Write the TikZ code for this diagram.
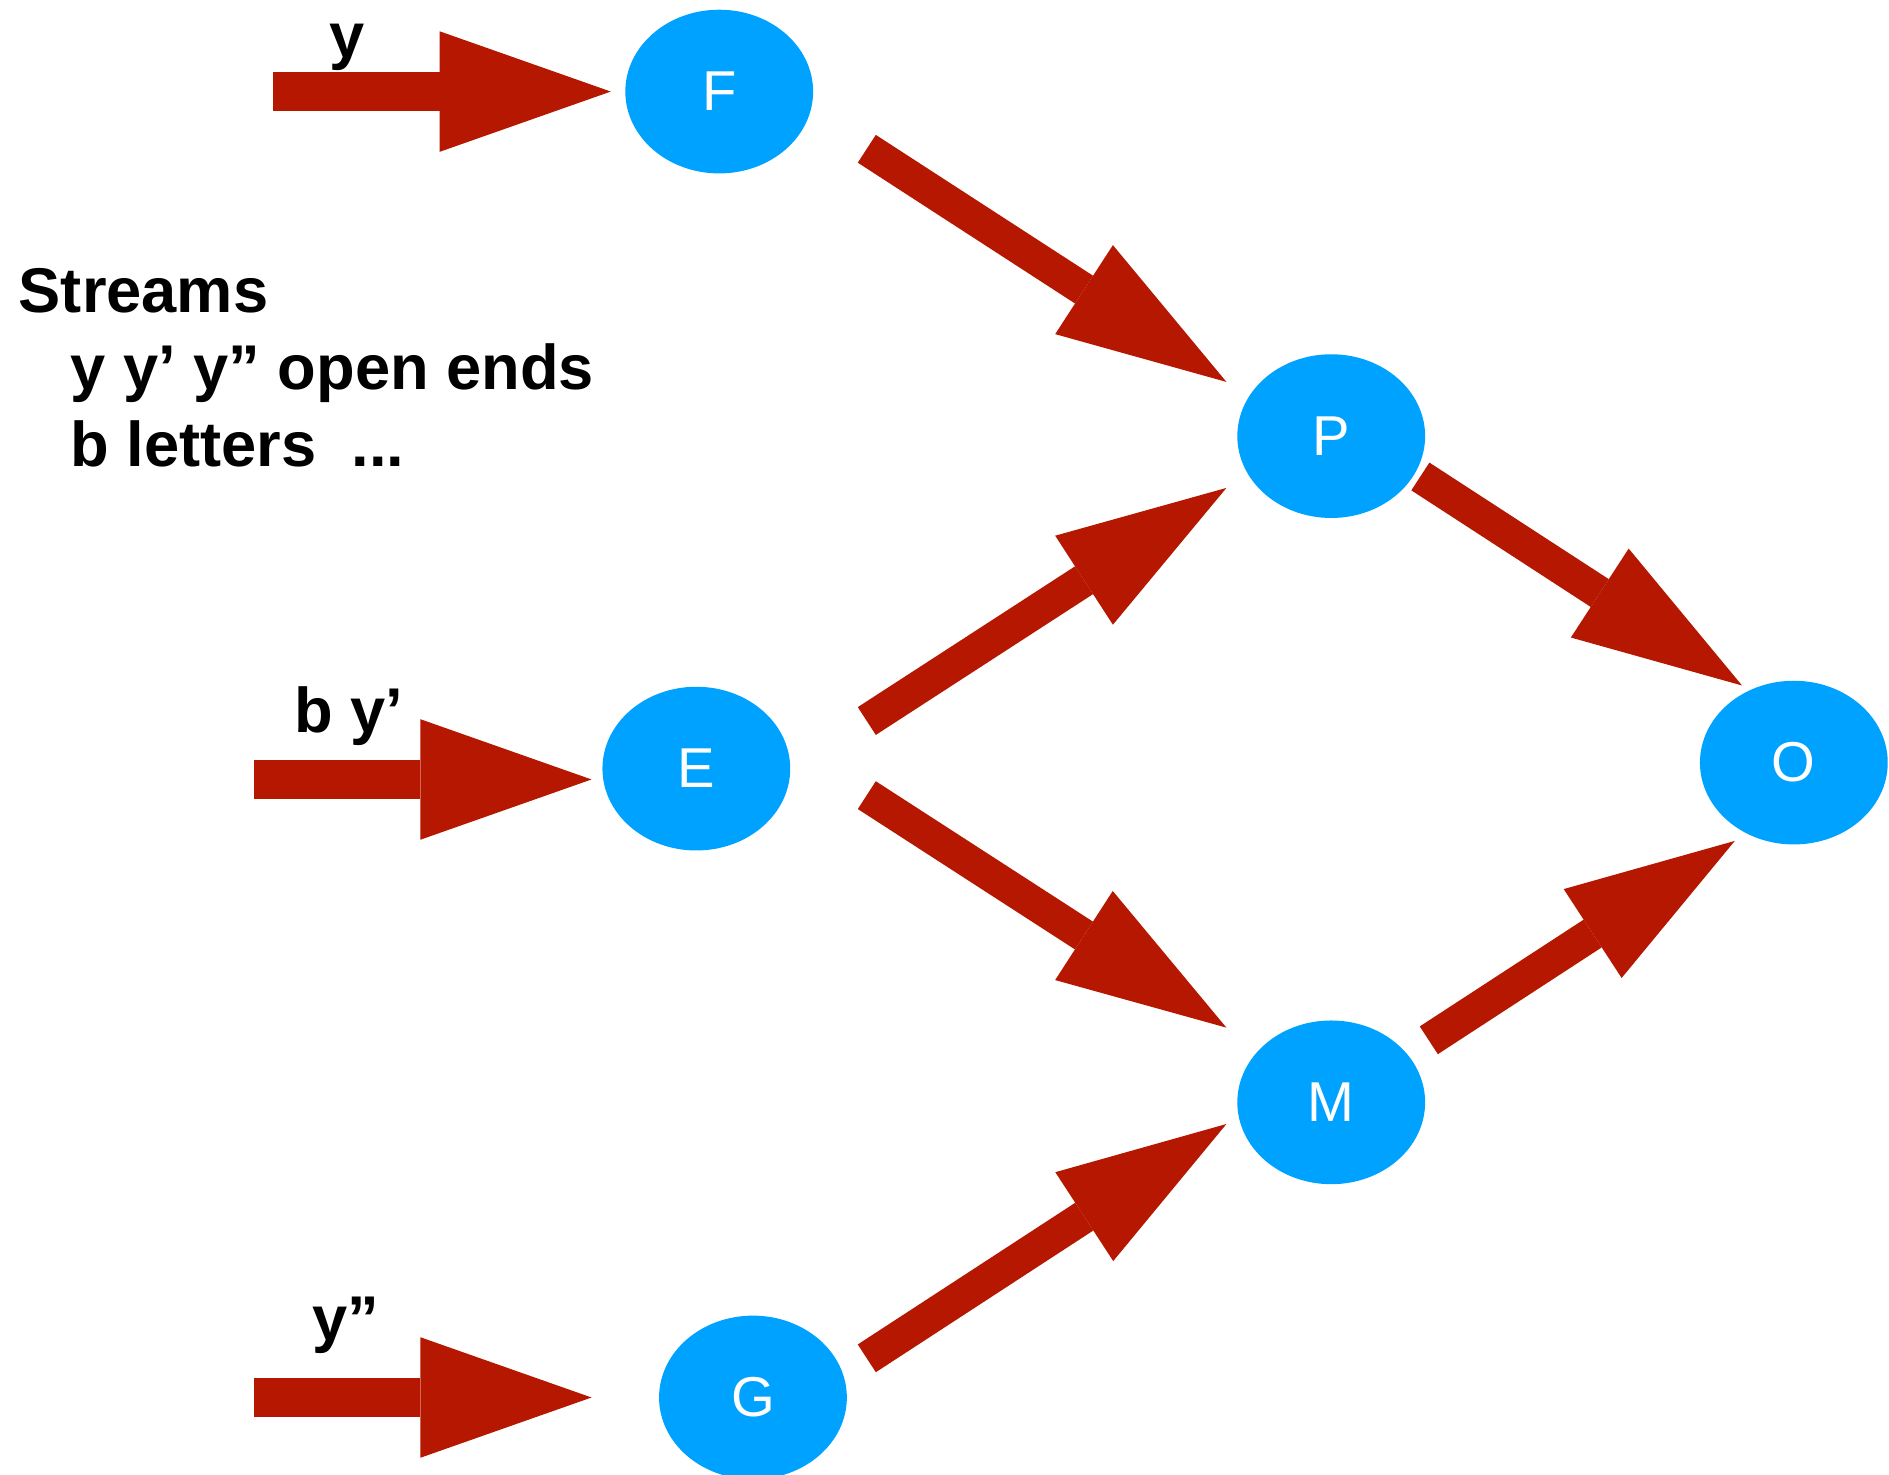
\documentclass[tikz,border=0pt]{standalone}
\usepackage{fontspec}
\setmainfont{Liberation Sans}
\usetikzlibrary{shapes.geometric,arrows.meta}
\definecolor{opblue}{RGB}{0,162,255}
\definecolor{flowred}{RGB}{181,23,0}
\tikzset{
  op/.style={ellipse,fill=opblue,text=white,inner sep=0pt,
    minimum width=1.879cm,minimum height=1.638cm,font=\fontsize{16}{16}\selectfont},
  inflow/.style={draw=flowred,line width=10.97pt,
    -{Triangle[length=48.7pt,width=34.3pt,line width=0pt]}},
  flow/.style={draw=flowred,line width=9.43pt,
    -{Triangle[length=48.3pt,width=30.2pt,line width=0pt]}},
  lbl/.style={anchor=base west,inner sep=0pt,font=\bfseries\fontsize{18}{22}\selectfont}
}
\begin{document}
\begin{tikzpicture}[x=0.012047cm,y=-0.012047cm]
\useasboundingbox (0,0) rectangle (1568,1224);
% operators
\node[op] (F) at (597,76) {F};
\node[op] (E) at (578,638) {E};
\node[op] (G) at (625,1160) {G};
\node[op] (P) at (1105,362) {P};
\node[op] (M) at (1105,915) {M};
\node[op] (O) at (1489,633) {O};
% open ends
\coordinate (inF) at (227,76);
\coordinate (inE) at (211,647);
\coordinate (inG) at (211,1160);
\draw[inflow] (inF) -- ([shift={(-90,0)}]F.center);
\draw[inflow] (inE) -- ([shift={(-87,9)}]E.center);
\draw[inflow] (inG) -- ([shift={(-134,0)}]G.center);
\node[lbl] (yF) at (273,48) {y};
\node[lbl] (yE) at (244,608) {b y’};
\node[lbl] (yG) at (259,1113) {y”};
% streams between operators
\draw[flow] ([shift={(122.5,47.5)}]F.center) -- ([shift={(-87,-45)}]P.center);
\draw[flow] ([shift={(141.5,-39.5)}]E.center) -- ([shift={(-87,43)}]P.center);
\draw[flow] ([shift={(141.5,22)}]E.center) -- ([shift={(-87,-62)}]M.center);
\draw[flow] ([shift={(94.5,-32.5)}]G.center) -- ([shift={(-87,18)}]M.center);
\draw[flow] ([shift={(74,33.5)}]P.center) -- ([shift={(-43,-64)}]O.center);
\draw[flow] ([shift={(81,-51.5)}]M.center) -- ([shift={(-49,65)}]O.center);
% legend
\node[lbl] (leg1) at (15,259) {Streams};
\node[lbl] (leg2) at (58,323) {y y’ y” open ends};
\node[lbl] (leg3) at (58,387) {b letters\ \ ...};
\end{tikzpicture}
\end{document}
